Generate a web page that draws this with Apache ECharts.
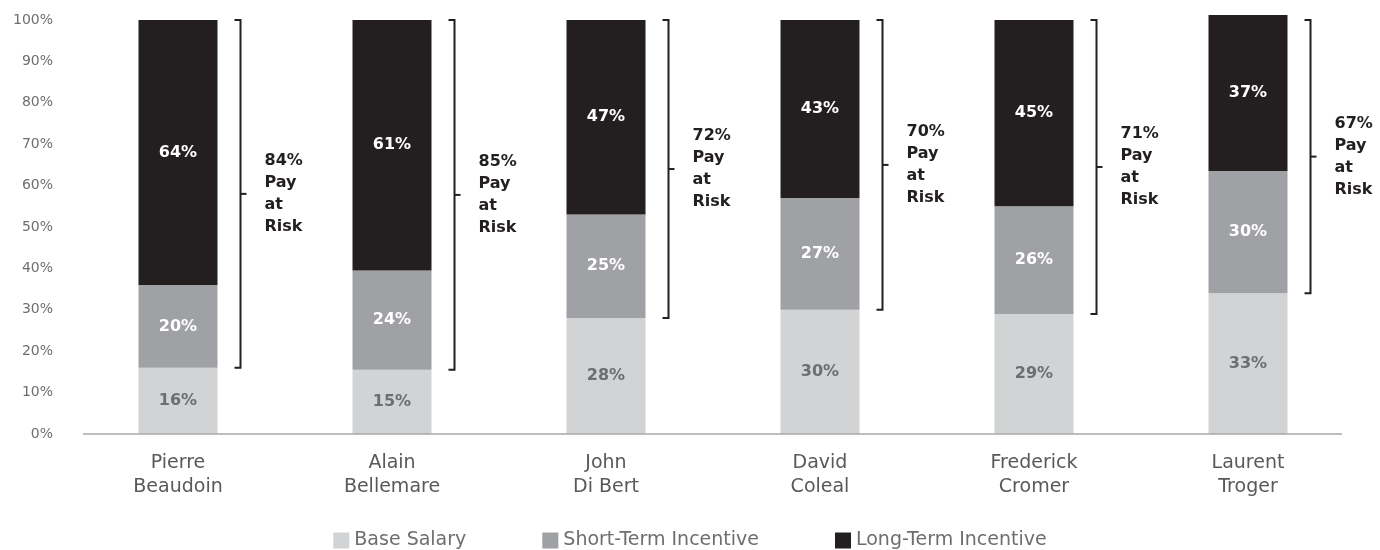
<!DOCTYPE html>
<html>
<head>
<meta charset="utf-8">
<script src="https://cdn.jsdelivr.net/npm/echarts@6/dist/echarts.min.js"></script>
<style>
  html, body { margin: 0; padding: 0; background: #fff; }
  #chart { width: 1380px; height: 550px; }
</style>
</head>
<body>
<div id="chart"></div>
<script>
  // executives (x categories)
  var names = ['Pierre\nBeaudoin', 'Alain\nBellemare', 'John\nDi Bert', 'David\nColeal', 'Frederick\nCromer', 'Laurent\nTroger'];

  // segment heights (% of total pay) as drawn
  var baseSalary = [16, 15.5, 28, 30, 29, 34];
  var shortTerm = [20, 24, 25, 27, 26, 29.5];
  var longTerm = [64, 60.5, 47, 43, 45, 37.7];

  // printed labels
  var baseLabels = ['16%', '15%', '28%', '30%', '29%', '33%'];
  var shortLabels = ['20%', '24%', '25%', '27%', '26%', '30%'];
  var longLabels = ['64%', '61%', '47%', '43%', '45%', '37%'];
  var payAtRisk = [84, 85, 72, 70, 71, 67];

  var yTicks = [0, 10, 20, 30, 40, 50, 60, 70, 80, 90, 100];

  var FONT = '"DejaVu Sans", sans-serif';
  var BAR_W = 79;

  var bracketData = names.map(function (n, i) {
    return [i, baseSalary[i], 100, payAtRisk[i]];
  });

  function segLabel(arr, color) {
    return {
      show: true,
      position: 'inside',
      color: color,
      fontFamily: FONT,
      fontWeight: 'bold',
      fontSize: 16,
      formatter: function (p) { return arr[p.dataIndex]; }
    };
  }

  var chart = echarts.init(document.getElementById('chart'));
  chart.setOption({
    animation: false,
    grid: { left: 71, right: 25, top: 20, bottom: 116 },
    legend: {
      left: 'center',
      top: 526,
      icon: 'rect',
      itemWidth: 16,
      itemHeight: 16,
      itemGap: 76,
      textStyle: { color: '#6d6e71', fontSize: 19, fontFamily: FONT },
      data: ['Base Salary', 'Short-Term Incentive', 'Long-Term Incentive']
    },
    xAxis: {
      type: 'category',
      data: names,
      axisLine: { show: false },
      axisTick: { show: false },
      axisLabel: {
        color: '#58595b',
        fontSize: 19,
        lineHeight: 24,
        margin: 17,
        fontFamily: FONT
      }
    },
    yAxis: {
      type: 'value',
      min: 0,
      max: 100,
      interval: 10,
      splitLine: { show: false },
      axisLine: { show: false },
      axisTick: { show: false },
      axisLabel: {
        color: '#6d6e71',
        fontSize: 14,
        margin: 18,
        fontFamily: FONT,
        formatter: function (v) { return yTicks.indexOf(v) >= 0 ? v + '%' : ''; }
      }
    },
    graphic: [{
      type: 'line',
      shape: { x1: 83, y1: 434, x2: 1342, y2: 434 },
      style: { stroke: '#a7a9ac', lineWidth: 1.5 },
      z: 10
    }],
    series: [
      {
        name: 'Base Salary',
        type: 'bar',
        stack: 'pay',
        barWidth: BAR_W,
        clip: false,
        itemStyle: { color: '#d1d3d4' },
        label: segLabel(baseLabels, '#6d6e71'),
        data: baseSalary
      },
      {
        name: 'Short-Term Incentive',
        type: 'bar',
        stack: 'pay',
        barWidth: BAR_W,
        clip: false,
        itemStyle: { color: '#a0a1a4' },
        label: segLabel(shortLabels, '#ffffff'),
        data: shortTerm
      },
      {
        name: 'Long-Term Incentive',
        type: 'bar',
        stack: 'pay',
        barWidth: BAR_W,
        clip: false,
        itemStyle: { color: '#231f20' },
        label: segLabel(longLabels, '#ffffff'),
        data: longTerm
      },
      {
        name: 'bracket',
        type: 'custom',
        clip: false,
        data: bracketData,
        renderItem: function (params, api) {
          var i = api.value(0);
          var top = api.coord([i, api.value(2)]);
          var bot = api.coord([i, api.value(1)]);
          var x = top[0] + BAR_W / 2 + 23;
          var mid = (top[1] + bot[1]) / 2;
          return {
            type: 'group',
            children: [
              {
                type: 'polyline',
                shape: { points: [[x - 6, top[1]], [x, top[1]], [x, bot[1]], [x - 6, bot[1]]] },
                style: { stroke: '#231f20', lineWidth: 2, fill: null }
              },
              {
                type: 'line',
                shape: { x1: x, y1: mid, x2: x + 6, y2: mid },
                style: { stroke: '#231f20', lineWidth: 2 }
              },
              {
                type: 'text',
                x: x + 24,
                y: mid,
                style: {
                  text: api.value(3) + '%\nPay\nat\nRisk',
                  fill: '#231f20',
                  font: 'bold 16px ' + FONT,
                  lineHeight: 22,
                  align: 'left',
                  verticalAlign: 'middle'
                }
              }
            ]
          };
        }
      }
    ]
  });
</script>
</body>
</html>
